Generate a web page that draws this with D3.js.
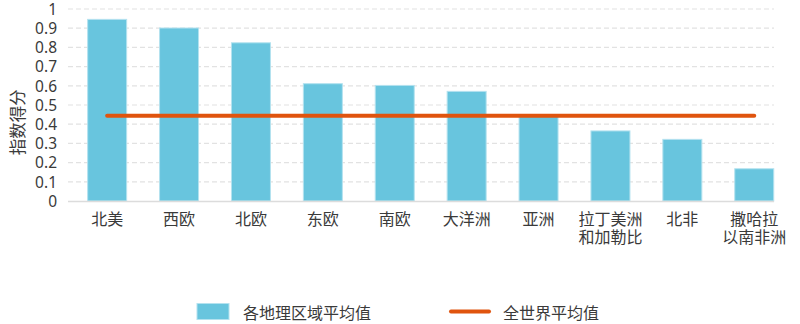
<!DOCTYPE html>
<html>
<head>
<meta charset="utf-8">
<script src="https://cdn.jsdelivr.net/npm/d3@7"></script>
<style>
  html, body { margin: 0; padding: 0; background: #ffffff; }
  svg { display: block; font-family: "Noto Sans CJK SC", "Noto Sans", sans-serif; }
</style>
</head>
<body>
<svg id="chart" width="800" height="324"></svg>
<script>
// Regions and their index scores
const categories = ["北美", "西欧", "北欧", "东欧", "南欧", "大洋洲", "亚洲", "拉丁美洲和加勒比", "北非", "撒哈拉以南非洲"];
const categoryLines = [["北美"], ["西欧"], ["北欧"], ["东欧"], ["南欧"], ["大洋洲"], ["亚洲"], ["拉丁美洲", "和加勒比"], ["北非"], ["撒哈拉", "以南非洲"]];
const regionAverage = [0.946, 0.901, 0.824, 0.611, 0.602, 0.571, 0.44, 0.365, 0.321, 0.168];
const worldAverage = 0.444;
const yTicks = [0, 0.1, 0.2, 0.3, 0.4, 0.5, 0.6, 0.7, 0.8, 0.9, 1];
const yTitle = "指数得分";
const legendLabels = ["各地理区域平均值", "全世界平均值"];

const barColor = "#68C5DE";
const barEdge = "#B4E2EF";
const lineColor = "#E0540E";
const textColor = "#3a3a3a";

const svg = d3.select("#chart");

const x = d3.scaleBand()
  .domain(categories)
  .range([71.2, 790.2])
  .paddingInner(0.4576)
  .paddingOuter(0.2288);

const y = d3.scaleLinear().domain([0, 1]).range([201, 9]);

const gridLeft = 68, gridRight = 774;

// Dashed horizontal gridlines
svg.append("g")
  .selectAll("line")
  .data(yTicks.filter(d => d > 0))
  .join("line")
  .attr("x1", gridLeft).attr("x2", gridRight)
  .attr("y1", d => y(d)).attr("y2", d => y(d))
  .attr("stroke", "#e2e2e2")
  .attr("stroke-width", 1.2)
  .attr("stroke-dasharray", "5,3");

// Y axis tick labels
const yAxis = d3.axisLeft(y).tickValues(yTicks).tickSize(0).tickPadding(0)
  .tickFormat(d => d3.format("~g")(d));
svg.append("g")
  .attr("transform", "translate(57,0)")
  .call(yAxis)
  .call(g => g.select(".domain").remove())
  .call(g => g.selectAll("text")
    .attr("fill", textColor)
    .style("font-size", "15.5px")
    .style("font-family", "'Noto Sans', sans-serif")
    .attr("dy", "0.34em"));

// Y axis title
svg.append("text")
  .attr("transform", `translate(17,${y(0.41)}) rotate(-90)`)
  .attr("text-anchor", "middle")
  .attr("dominant-baseline", "central")
  .attr("fill", textColor)
  .style("font-size", "16.5px")
  .text(yTitle);

// Bars
svg.append("g")
  .selectAll("rect")
  .data(regionAverage)
  .join("rect")
  .attr("x", (d, i) => x(categories[i]))
  .attr("y", d => y(d))
  .attr("width", x.bandwidth())
  .attr("height", d => y(0) - y(d))
  .attr("fill", barColor)
  .attr("stroke", barEdge)
  .attr("stroke-width", 1);

// Baseline
svg.append("line")
  .attr("x1", gridLeft).attr("x2", gridRight)
  .attr("y1", y(0) + 0.5).attr("y2", y(0) + 0.5)
  .attr("stroke", "#dcdcdc")
  .attr("stroke-width", 1.5);

// World average line across the bar centres
const cx = c => x(c) + x.bandwidth() / 2;
svg.append("line")
  .attr("x1", cx(categories[0]))
  .attr("x2", cx(categories[categories.length - 1]))
  .attr("y1", y(worldAverage)).attr("y2", y(worldAverage))
  .attr("stroke", lineColor)
  .attr("stroke-width", 4)
  .attr("stroke-linecap", "round");

// Category labels (multi-line where needed)
const xLabels = svg.append("g")
  .selectAll("text")
  .data(categories)
  .join("text")
  .attr("x", d => cx(d))
  .attr("y", 219)
  .attr("text-anchor", "middle")
  .attr("fill", textColor)
  .style("font-size", "16px");
xLabels.selectAll("tspan")
  .data((d, i) => categoryLines[i])
  .join("tspan")
  .attr("x", function () { return this.parentNode.getAttribute("x"); })
  .attr("dy", (d, j) => j === 0 ? "0.35em" : "18.5px")
  .text(d => d);

// Legend
const legend = svg.append("g");
legend.append("rect")
  .attr("x", 197).attr("y", 303.5)
  .attr("width", 32).attr("height", 16)
  .attr("fill", barColor)
  .attr("stroke", barEdge)
  .attr("stroke-width", 1);
legend.append("text")
  .attr("x", 243).attr("y", 311.5)
  .attr("dominant-baseline", "central")
  .attr("fill", textColor)
  .style("font-size", "16px")
  .text(legendLabels[0]);
legend.append("line")
  .attr("x1", 451).attr("x2", 489)
  .attr("y1", 311.5).attr("y2", 311.5)
  .attr("stroke", lineColor)
  .attr("stroke-width", 4)
  .attr("stroke-linecap", "round");
legend.append("text")
  .attr("x", 503).attr("y", 311.5)
  .attr("dominant-baseline", "central")
  .attr("fill", textColor)
  .style("font-size", "16px")
  .text(legendLabels[1]);
</script>
</body>
</html>
